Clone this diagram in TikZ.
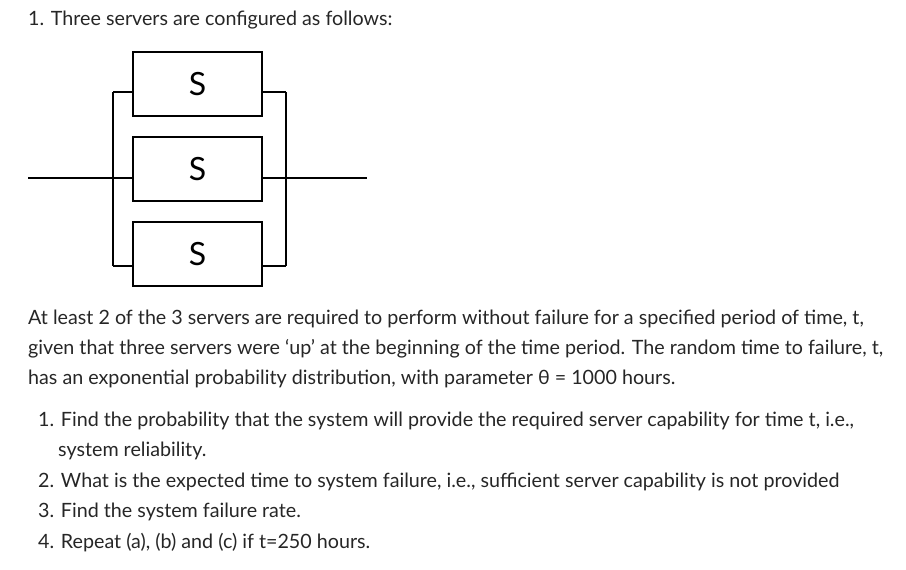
\documentclass[tikz,border=0pt]{standalone}
\usepackage{fontspec}
\setmainfont{Lato}
\begin{document}
\begin{tikzpicture}[x=1pt,y=-1pt,
  srv/.style={draw,line width=1.8pt,minimum width=129pt,minimum height=64pt,inner sep=0pt,font=\fontsize{32}{32}\selectfont},
  wire/.style={line width=1.3pt},
  txt/.style={anchor=base west,inner sep=0pt,font=\fontsize{19.7}{22}\selectfont,text=black!85}]
\useasboundingbox (0,0) rectangle (906,570);
\node[srv] (s1) at (197.5,84) {S};
\node[srv] (s2) at (197.5,169) {S};
\node[srv] (s3) at (197.5,254) {S};
\coordinate (lt) at (113,92); \coordinate (lb) at (113,266);
\coordinate (rt) at (286,92); \coordinate (rb) at (286,266);
\coordinate (lin) at (28,178); \coordinate (rout) at (367,178);
\draw[wire] (lt) -- (lb);
\draw[wire] (rt) -- (rb);
\draw[wire] (lt) -- (lt -| s1.west);
\draw[wire] (lb) -- (lb -| s3.west);
\draw[wire] (rt -| s1.east) -- (rt);
\draw[wire] (rb -| s3.east) -- (rb);
\draw[wire] (lin) -- (lin -| s2.west);
\draw[wire] (rout -| s2.east) -- (rout);
\node[txt] (t0) at (28,26) {1. Three servers are configured as follows:};
\node[txt] (p1) at (28,324) {At least 2 of the 3 servers are required to perform without failure for a specified period of time, t,};
\node[txt] (p2) at (28,354) {given that three servers were ‘up’ at the beginning of the time period. The random time to failure, t,};
\node[txt] (p3) at (28,384) {has an exponential probability distribution, with parameter θ = 1000 hours.};
\node[txt] (i1) at (38,426) {1. Find the probability that the system will provide the required server capability for time t, i.e.,};
\node[txt] (i1b) at (58,456) {system reliability.};
\node[txt] (i2) at (38,487) {2. What is the expected time to system failure, i.e., sufficient server capability is not provided};
\node[txt] (i3) at (38,517) {3. Find the system failure rate.};
\node[txt] (i4) at (38,548) {4. Repeat (a), (b) and (c) if t=250 hours.};
\end{tikzpicture}
\end{document}
